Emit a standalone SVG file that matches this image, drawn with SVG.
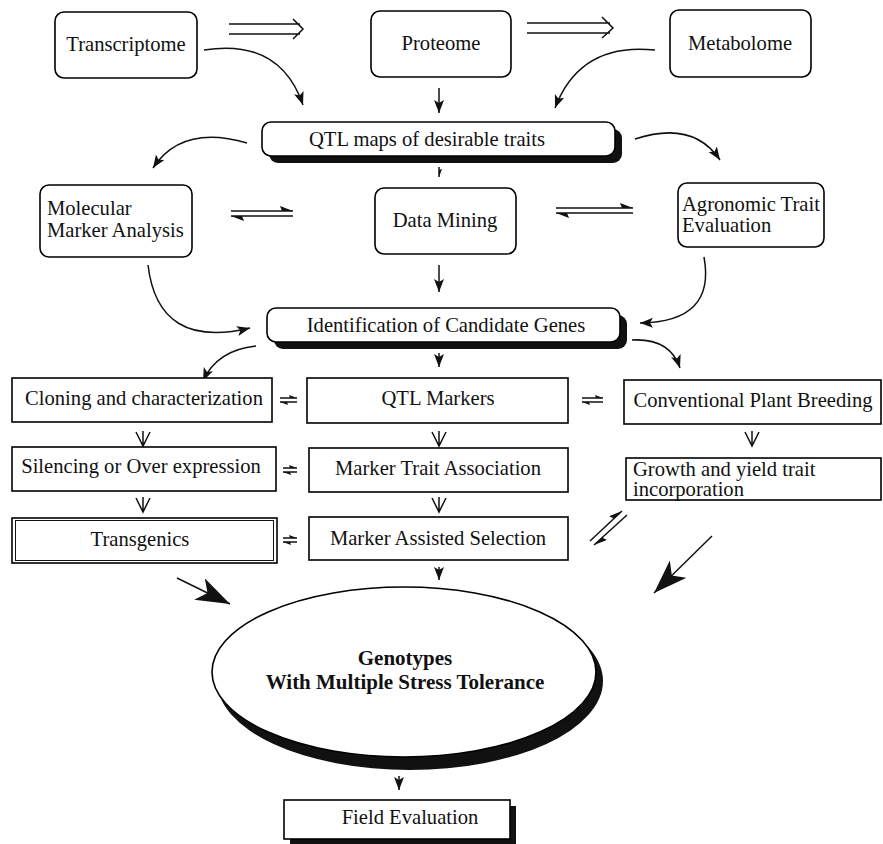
<svg xmlns="http://www.w3.org/2000/svg" width="883" height="844" viewBox="0 0 883 844">
<style>
.box{fill:#fff;stroke:#000;stroke-width:1.6}
.sh{fill:#111;stroke:none}
.t{font-family:"Liberation Serif","Times New Roman",serif;font-size:20.6px;fill:#111}
.c{text-anchor:middle}
.b{font-weight:bold;font-size:21px}
.ln{fill:none;stroke:#111;stroke-width:1.5}
.hd{fill:#111;stroke:none}
</style>
<defs>
<marker id="ah" markerUnits="userSpaceOnUse" markerWidth="16" markerHeight="12" refX="13" refY="5" orient="auto">
<path d="M0,0 L13,5 L0,10 L3,5 Z" fill="#111"/>
</marker>
<marker id="big" markerUnits="userSpaceOnUse" markerWidth="36" markerHeight="26" refX="34" refY="12" orient="auto">
<path d="M0,0 L34,12 L0,24 L9,12 Z" fill="#111"/>
</marker>
<marker id="harp" markerUnits="userSpaceOnUse" markerWidth="14" markerHeight="8" refX="13" refY="5" orient="auto">
<path d="M0,0 L13,5 L2,5 Z" fill="#111"/>
</marker>
<marker id="harps" markerUnits="userSpaceOnUse" markerWidth="10" markerHeight="6" refX="8" refY="4" orient="auto">
<path d="M0,1 L8,4 L1,4 Z" fill="#111"/>
</marker>
</defs>

<g id="connectors">
<path class="ln" d="M229,24 H300 M229,34 H300 M293,19 L303,29 L293,39"/>
<path class="ln" d="M527,23 H610 M527,33 H610 M602,17 L613,28 L602,38"/>
<path class="ln" d="M204,50 Q 280,38 303,105" marker-end="url(#ah)"/>
<path class="ln" d="M655,50 Q 580,42 555,108" marker-end="url(#ah)"/>
<path class="ln" d="M439,88 V113" marker-end="url(#ah)"/>
<path class="ln" d="M247,143 Q 182,124 153,168" marker-end="url(#ah)"/>
<path class="ln" d="M635,139 Q 693,120 720,160" marker-end="url(#ah)"/>
<path class="ln" d="M439,167 V177" stroke-width="1" marker-end="url(#harps)"/>
<path class="ln" d="M231,211 H293" marker-end="url(#harp)"/>
<path class="ln" d="M293,216 H231" marker-end="url(#harp)"/>
<path class="ln" d="M556,208 H633" marker-end="url(#harp)"/>
<path class="ln" d="M633,213 H556" marker-end="url(#harp)"/>
<path class="ln" d="M439,265 V292" marker-end="url(#ah)"/>
<path class="ln" d="M148,265 Q 158,350 250,328" marker-end="url(#ah)"/>
<path class="ln" d="M704,257 Q 716,322 640,323" marker-end="url(#ah)"/>
<path class="ln" d="M256,346 Q 217,350 203,381" marker-end="url(#ah)"/>
<path class="ln" d="M632,340 Q 670,338 680,368" marker-end="url(#ah)"/>
<path class="ln" d="M439,353 V367" marker-end="url(#ah)"/>
<path class="ln" d="M280,398 H297" marker-end="url(#harps)"/>
<path class="ln" d="M297,402 H280" marker-end="url(#harps)"/>
<path class="ln" d="M582,398 H603" marker-end="url(#harps)"/>
<path class="ln" d="M603,402 H582" marker-end="url(#harps)"/>
<path class="ln" d="M283,468 H297" marker-end="url(#harps)"/>
<path class="ln" d="M297,472 H283" marker-end="url(#harps)"/>
<path class="ln" d="M283,538 H297" marker-end="url(#harps)"/>
<path class="ln" d="M297,542 H283" marker-end="url(#harps)"/>
<path class="ln" d="M136,432 L143,446 L150,432 M143,431 V446"/>
<path class="ln" d="M432,432 L439,446 L446,432 M439,431 V446"/>
<path class="ln" d="M745,432 L752,446 L759,432 M752,431 V446"/>
<path class="ln" d="M136,498 L143,512 L150,498 M143,497 V512"/>
<path class="ln" d="M432,498 L439,512 L446,498 M439,497 V512"/>
<path class="ln" d="M590,541 L622,511" marker-end="url(#harp)"/>
<path class="ln" d="M627,515 L594,545" marker-end="url(#harp)"/>
<path class="ln" d="M439,567 V580" marker-end="url(#ah)"/>
<path class="ln" d="M177,578 L230,604" marker-end="url(#big)"/>
<path class="ln" d="M712,536 L654,593" marker-end="url(#big)"/>
<path class="ln" d="M399,776 V790" marker-end="url(#ah)"/>
</g>

<g id="transcriptome">
<rect class="box" x="55" y="12" width="142" height="66" rx="9"/>
<text class="t c" x="126" y="51">Transcriptome</text>
</g>
<g id="proteome">
<rect class="box" x="371" y="11" width="140" height="66" rx="9"/>
<text class="t c" x="441" y="50">Proteome</text>
</g>
<g id="metabolome">
<rect class="box" x="670" y="10" width="141" height="67" rx="9"/>
<text class="t c" x="740" y="50">Metabolome</text>
</g>
<g id="qtlmaps">
<rect class="sh" x="269" y="129" width="353" height="34" rx="9"/>
<rect class="box" x="262" y="122" width="353" height="34" rx="9"/>
<text class="t c" x="427" y="146">QTL maps of desirable traits</text>
</g>
<g id="molecular">
<rect class="box" x="40" y="185" width="152" height="72" rx="9"/>
<text class="t" x="47" y="215">Molecular</text>
<text class="t" x="47" y="237">Marker Analysis</text>
</g>
<g id="datamining">
<rect class="box" x="375" y="188" width="141" height="66" rx="9"/>
<text class="t c" x="445" y="227">Data Mining</text>
</g>
<g id="agronomic">
<rect class="box" x="678" y="183" width="146" height="64" rx="9"/>
<text class="t" x="682" y="211">Agronomic Trait</text>
<text class="t" x="682" y="232">Evaluation</text>
</g>
<g id="identification">
<rect class="sh" x="274" y="315" width="353" height="34" rx="9"/>
<rect class="box" x="267" y="308" width="353" height="34" rx="9"/>
<text class="t c" x="446" y="332">Identification of Candidate Genes</text>
</g>
<g id="cloning">
<rect class="box" x="12" y="378" width="260" height="44"/>
<text class="t c" x="144" y="405">Cloning and characterization</text>
</g>
<g id="qtlmarkers">
<rect class="box" x="307" y="378" width="261" height="45"/>
<text class="t c" x="438" y="405">QTL Markers</text>
</g>
<g id="conventional">
<rect class="box" x="624" y="380" width="257" height="44"/>
<text class="t c" x="753" y="407">Conventional Plant Breeding</text>
</g>
<g id="silencing">
<rect class="box" x="12" y="447" width="264" height="44"/>
<text class="t c" x="141" y="473">Silencing or Over expression</text>
</g>
<g id="markertrait">
<rect class="box" x="309" y="448" width="259" height="44"/>
<text class="t c" x="438" y="475">Marker Trait Association</text>
</g>
<g id="growth">
<rect class="box" x="626" y="458" width="255" height="42"/>
<text class="t" x="633" y="476">Growth and yield trait</text>
<text class="t" x="633" y="496">incorporation</text>
</g>
<g id="transgenics">
<rect class="box" x="12" y="518" width="265" height="45"/>
<rect x="15.5" y="520.5" width="258" height="40" fill="none" stroke="#111" stroke-width="1"/>
<text class="t c" x="140" y="546">Transgenics</text>
</g>
<g id="mas">
<rect class="box" x="309" y="517" width="259" height="43"/>
<text class="t c" x="438" y="545">Marker Assisted Selection</text>
</g>
<g id="genotypes">
<ellipse class="sh" cx="410" cy="681" rx="193" ry="89"/>
<ellipse class="box" cx="404" cy="672" rx="192" ry="85"/>
<text class="t c b" x="405" y="665">Genotypes</text>
<text class="t c b" x="405" y="689">With Multiple Stress Tolerance</text>
</g>
<g id="field">
<rect class="sh" x="290" y="806" width="226" height="40"/>
<rect class="box" x="284" y="800" width="226" height="39"/>
<text class="t c" x="410" y="824">Field Evaluation</text>
</g>
</svg>
